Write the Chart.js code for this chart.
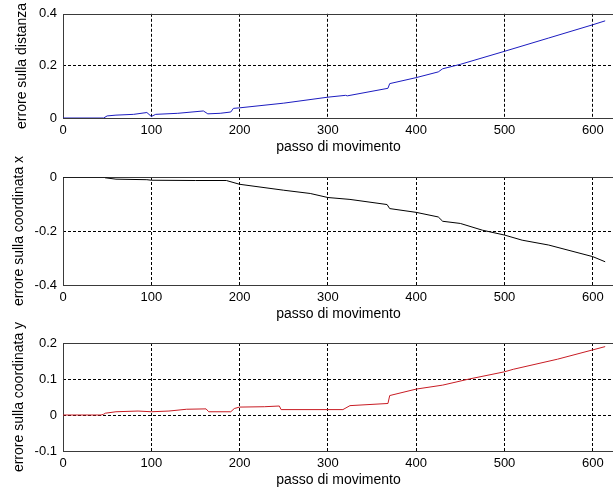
<!DOCTYPE html>
<html lang="it">
<head>
<meta charset="utf-8">
<title>Errore per passo di movimento</title>
<script src="https://cdn.jsdelivr.net/npm/chart.js@4.4.1/dist/chart.umd.min.js"></script>
<style>
  html, body { margin: 0; padding: 0; background: #fff; overflow: hidden; }
  #wrap { position: relative; width: 613px; height: 490px; overflow: hidden; }
  #wrap canvas { position: absolute; left: 0; }
</style>
</head>
<body>
<div id="wrap">
  <canvas id="c-dist" width="620" height="156" style="top:0px"></canvas>
  <canvas id="c-x" width="620" height="173" style="top:150px"></canvas>
  <canvas id="c-y" width="620" height="173" style="top:316px"></canvas>
</div>
<script>
// asse orizzontale comune ai tre grafici
const xTicks = [0, 100, 200, 300, 400, 500, 600];
const X_MAX = 624;

// errore sulla distanza
const distStep = [0, 46, 50, 60, 80, 95, 100, 105, 130, 159, 164, 178, 190, 193, 200, 250, 300, 320, 322, 368, 370, 400, 425, 430, 450, 500, 550, 600, 614];
const distErr  = [0, 0, 0.008, 0.011, 0.014, 0.021, 0.006, 0.014, 0.018, 0.027, 0.016, 0.018, 0.023, 0.037, 0.039, 0.057, 0.08, 0.087, 0.085, 0.114, 0.132, 0.155, 0.177, 0.189, 0.206, 0.256, 0.307, 0.358, 0.373];
const distTicks = [0, 0.2, 0.4];

// errore sulla coordinata x
const coordXStep = [0, 47, 48, 60, 95, 100, 150, 185, 200, 250, 280, 300, 325, 367, 370, 400, 425, 430, 450, 475, 500, 520, 550, 600, 614];
const coordXErr  = [0, 0, -0.003, -0.008, -0.01, -0.012, -0.013, -0.013, -0.027, -0.049, -0.061, -0.076, -0.083, -0.102, -0.117, -0.131, -0.148, -0.164, -0.172, -0.197, -0.215, -0.234, -0.252, -0.295, -0.314];
const coordXTicks = [-0.4, -0.2, 0];

// errore sulla coordinata y
const coordYStep = [0, 43, 46, 48, 60, 85, 100, 120, 140, 162, 165, 190, 194, 200, 228, 245, 247, 317, 325, 368, 370, 400, 430, 460, 500, 510, 560, 614];
const coordYErr  = [0, 0, 0.002, 0.005, 0.009, 0.011, 0.009, 0.011, 0.016, 0.017, 0.009, 0.009, 0.018, 0.022, 0.023, 0.025, 0.015, 0.015, 0.026, 0.032, 0.054, 0.072, 0.083, 0.1, 0.12, 0.127, 0.155, 0.19];
const coordYTicks = [-0.1, 0, 0.1, 0.2];

const FONT = "'Liberation Sans', Arial, sans-serif";

// riquadro attorno all'area del grafico, stile matlab
const cornice = {
  id: 'cornice',
  beforeDatasetsDraw(chart) {
    const { ctx, chartArea: a } = chart;
    ctx.save();
    ctx.strokeStyle = '#3a3a3a';
    ctx.lineWidth = 1;
    ctx.strokeRect(Math.round(a.left) + 0.5, Math.round(a.top) + 0.5,
      Math.round(a.right - a.left), Math.round(a.bottom - a.top));
    ctx.restore();
  }
};

// niente griglia sui bordi: li disegna già la cornice
function griglia(nTicks, salta0) {
  return {
    color: c => ((c.index === 0 && salta0) || c.index === nTicks - 1) ? 'rgba(0,0,0,0)' : '#000',
    lineWidth: 1,
    drawTicks: false
  };
}
const bordo = { display: false, dash: [3, 2] };

function pannello(id, step, err, yTicks, colore, titoloY, padTop, titoloPad) {
  new Chart(document.getElementById(id), {
    type: 'line',
    data: {
      datasets: [{
        data: step.map((s, i) => ({ x: s, y: err[i] })),
        borderColor: colore,
        borderWidth: 1,
        pointRadius: 0,
        tension: 0,
        fill: false
      }]
    },
    options: {
      responsive: false,
      animation: false,
      events: [],
      layout: { padding: { top: padTop, right: 6, bottom: 0, left: 0 } },
      plugins: { legend: { display: false }, tooltip: { enabled: false } },
      scales: {
        x: {
          type: 'linear',
          min: 0,
          max: X_MAX,
          afterBuildTicks: s => { s.ticks = xTicks.map(v => ({ value: v })); },
          afterFit: s => { s.height = 38; },
          grid: griglia(xTicks.length + 1, true),
          border: bordo,
          ticks: { color: '#000', padding: 5, maxRotation: 0, font: { family: FONT, size: 13 }, callback: v => String(v) },
          title: { display: true, text: 'passo di movimento', color: '#000', padding: 0, font: { family: FONT, size: 14 } }
        },
        y: {
          type: 'linear',
          min: yTicks[0],
          max: yTicks[yTicks.length - 1],
          afterBuildTicks: s => { s.ticks = yTicks.map(v => ({ value: v })); },
          afterFit: s => { s.width = 63; },
          grid: griglia(yTicks.length, true),
          border: bordo,
          ticks: { color: '#000', padding: 6, font: { family: FONT, size: 13 }, callback: v => String(v) },
          title: { display: true, text: titoloY, color: '#000', padding: { top: titoloPad, bottom: 0 }, font: { family: FONT, size: 14 } }
        }
      }
    },
    plugins: [cornice]
  });
}

pannello('c-dist', distStep, distErr, distTicks, '#1c1cc0', 'errore sulla distanza', 13, 14);
pannello('c-x', coordXStep, coordXErr, coordXTicks, '#000000', 'errore sulla coordinata x', 27, 11);
pannello('c-y', coordYStep, coordYErr, coordYTicks, '#c81c24', 'errore sulla coordinata y', 27, 11);
</script>
</body>
</html>
